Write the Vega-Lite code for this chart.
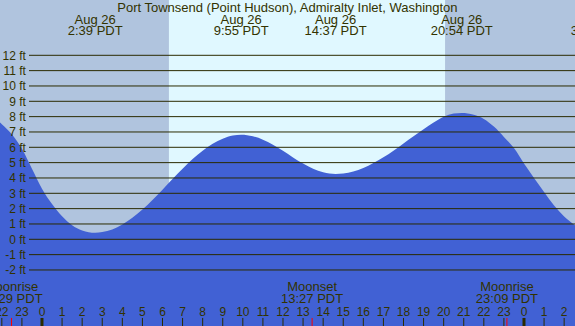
{
  "$schema": "https://vega.github.io/schema/vega-lite/v6.json",
  "width": 575,
  "height": 326,
  "autosize": {"type": "fit", "contains": "padding"},
  "padding": 0,
  "background": "#e0f8ff",
  "config": {"view": {"stroke": null}, "text": {"font": "Liberation Sans", "fontSize": 12, "color": "#333300"}},
  "datasets": {
    "tide": [
      {"t": -2.2, "ft": 7.75}, {"t": -2.0, "ft": 7.5}, {"t": -1.5, "ft": 6.85}, {"t": -1.0, "ft": 5.9},
      {"t": -0.5, "ft": 4.6}, {"t": 0.0, "ft": 3.3}, {"t": 0.5, "ft": 2.3}, {"t": 1.0, "ft": 1.5},
      {"t": 1.5, "ft": 0.92}, {"t": 2.0, "ft": 0.58}, {"t": 2.65, "ft": 0.43}, {"t": 3.0, "ft": 0.47},
      {"t": 3.5, "ft": 0.64}, {"t": 4.0, "ft": 0.96}, {"t": 4.5, "ft": 1.4}, {"t": 5.0, "ft": 1.94},
      {"t": 5.5, "ft": 2.56}, {"t": 6.0, "ft": 3.23}, {"t": 6.5, "ft": 3.93}, {"t": 7.0, "ft": 4.6},
      {"t": 7.5, "ft": 5.23}, {"t": 8.0, "ft": 5.78}, {"t": 8.5, "ft": 6.23}, {"t": 9.0, "ft": 6.56},
      {"t": 9.5, "ft": 6.77}, {"t": 9.92, "ft": 6.82}, {"t": 10.5, "ft": 6.72}, {"t": 11.0, "ft": 6.5},
      {"t": 11.5, "ft": 6.17}, {"t": 12.0, "ft": 5.77}, {"t": 12.5, "ft": 5.34}, {"t": 13.0, "ft": 4.94},
      {"t": 13.5, "ft": 4.6}, {"t": 14.0, "ft": 4.37}, {"t": 14.62, "ft": 4.26}, {"t": 15.0, "ft": 4.29},
      {"t": 15.5, "ft": 4.42}, {"t": 16.0, "ft": 4.65}, {"t": 16.5, "ft": 4.98}, {"t": 17.0, "ft": 5.35},
      {"t": 17.5, "ft": 5.78}, {"t": 18.0, "ft": 6.25}, {"t": 18.5, "ft": 6.72}, {"t": 19.0, "ft": 7.18},
      {"t": 19.5, "ft": 7.62}, {"t": 20.0, "ft": 8.0}, {"t": 20.5, "ft": 8.2}, {"t": 20.9, "ft": 8.24},
      {"t": 21.5, "ft": 8.12}, {"t": 22.0, "ft": 7.85}, {"t": 22.5, "ft": 7.35}, {"t": 23.0, "ft": 6.68},
      {"t": 23.5, "ft": 5.95}, {"t": 24.0, "ft": 4.95}, {"t": 24.5, "ft": 4.0}, {"t": 25.0, "ft": 3.08},
      {"t": 25.5, "ft": 2.2}, {"t": 26.0, "ft": 1.48}, {"t": 26.5, "ft": 0.95}, {"t": 27.0, "ft": 0.55}
    ],
    "night": [
      {"start": -2.5, "end": 6.32},
      {"start": 20.07, "end": 27.0}
    ],
    "grid": [
      {"ft": 12, "lbl": "12 ft"}, {"ft": 11, "lbl": "11 ft"}, {"ft": 10, "lbl": "10 ft"}, {"ft": 9, "lbl": "9 ft"},
      {"ft": 8, "lbl": "8 ft"}, {"ft": 7, "lbl": "7 ft"}, {"ft": 6, "lbl": "6 ft"}, {"ft": 5, "lbl": "5 ft"},
      {"ft": 4, "lbl": "4 ft"}, {"ft": 3, "lbl": "3 ft"}, {"ft": 2, "lbl": "2 ft"}, {"ft": 1, "lbl": "1 ft"},
      {"ft": 0, "lbl": "0 ft"}, {"ft": -1, "lbl": "-1 ft"}, {"ft": -2, "lbl": "-2 ft"}
    ],
    "tides": [
      {"t": 2.65, "d": "Aug 26", "tm": "2:39 PDT"},
      {"t": 9.917, "d": "Aug 26", "tm": "9:55 PDT"},
      {"t": 14.617, "d": "Aug 26", "tm": "14:37 PDT"},
      {"t": 20.9, "d": "Aug 26", "tm": "20:54 PDT"},
      {"t": 27.7, "d": "Aug 27", "tm": "3:42 PDT"}
    ],
    "moon": [
      {"t": -1.517, "ev": "Moonrise", "tm": "22:29 PDT"},
      {"t": 13.45, "ev": "Moonset", "tm": "13:27 PDT"},
      {"t": 23.15, "ev": "Moonrise", "tm": "23:09 PDT"}
    ],
    "hours": [
      {"t": -2, "lbl": "22"}, {"t": -1, "lbl": "23"}, {"t": 0, "lbl": "0"}, {"t": 1, "lbl": "1"},
      {"t": 2, "lbl": "2"}, {"t": 3, "lbl": "3"}, {"t": 4, "lbl": "4"}, {"t": 5, "lbl": "5"},
      {"t": 6, "lbl": "6"}, {"t": 7, "lbl": "7"}, {"t": 8, "lbl": "8"}, {"t": 9, "lbl": "9"},
      {"t": 10, "lbl": "10"}, {"t": 11, "lbl": "11"}, {"t": 12, "lbl": "12"}, {"t": 13, "lbl": "13"},
      {"t": 14, "lbl": "14"}, {"t": 15, "lbl": "15"}, {"t": 16, "lbl": "16"}, {"t": 17, "lbl": "17"},
      {"t": 18, "lbl": "18"}, {"t": 19, "lbl": "19"}, {"t": 20, "lbl": "20"}, {"t": 21, "lbl": "21"},
      {"t": 22, "lbl": "22"}, {"t": 23, "lbl": "23"}, {"t": 24, "lbl": "0"}, {"t": 25, "lbl": "1"},
      {"t": 26, "lbl": "2"}
    ],
    "title": [
      {"t": 12.22, "txt": "Port Townsend (Point Hudson), Admiralty Inlet, Washington"}
    ]
  },
  "layer": [
    {
      "data": {"name": "night"},
      "mark": {"type": "rect", "color": "#b0c4de", "clip": true},
      "encoding": {
        "x": {"field": "start", "type": "quantitative", "scale": {"domain": [-2.091, 26.54], "nice": false, "zero": false}, "axis": null},
        "x2": {"field": "end"},
        "y": {"datum": 16, "type": "quantitative", "scale": {"domain": [-5.654, 15.607], "nice": false, "zero": false}, "axis": null},
        "y2": {"datum": -6}
      }
    },
    {
      "data": {"name": "tide"},
      "mark": {"type": "area", "color": "#4161d4", "interpolate": "monotone", "clip": true, "opacity": 1},
      "encoding": {
        "x": {"field": "t", "type": "quantitative", "scale": {"domain": [-2.091, 26.54], "nice": false, "zero": false}, "axis": null},
        "y": {"field": "ft", "type": "quantitative", "scale": {"domain": [-5.654, 15.607], "nice": false, "zero": false}, "axis": null},
        "y2": {"datum": -6}
      }
    },
    {
      "data": {"name": "grid"},
      "mark": {"type": "rule", "color": "#2b2b00", "strokeWidth": 1, "clip": true},
      "encoding": {
        "x": {"datum": -0.647, "type": "quantitative", "scale": {"domain": [-2.091, 26.54], "nice": false, "zero": false}, "axis": null},
        "x2": {"datum": 27},
        "y": {"field": "ft", "type": "quantitative", "scale": {"domain": [-5.654, 15.607], "nice": false, "zero": false}, "axis": null}
      }
    },
    {
      "data": {"name": "grid"},
      "mark": {"type": "text", "align": "right", "baseline": "middle", "clip": true, "dy": 0.5},
      "encoding": {
        "x": {"datum": -0.8, "type": "quantitative", "scale": {"domain": [-2.091, 26.54], "nice": false, "zero": false}, "axis": null},
        "y": {"field": "ft", "type": "quantitative", "scale": {"domain": [-5.654, 15.607], "nice": false, "zero": false}, "axis": null},
        "text": {"field": "lbl"}
      }
    },
    {
      "data": {"name": "title"},
      "mark": {"type": "text", "align": "center", "baseline": "alphabetic", "clip": true, "fontSize": 13},
      "encoding": {
        "x": {"field": "t", "type": "quantitative", "scale": {"domain": [-2.091, 26.54], "nice": false, "zero": false}, "axis": null},
        "y": {"datum": 14.84, "type": "quantitative", "scale": {"domain": [-5.654, 15.607], "nice": false, "zero": false}, "axis": null},
        "text": {"field": "txt"}
      }
    },
    {
      "data": {"name": "tides"},
      "mark": {"type": "text", "align": "center", "baseline": "alphabetic", "clip": true, "fontSize": 13},
      "encoding": {
        "x": {"field": "t", "type": "quantitative", "scale": {"domain": [-2.091, 26.54], "nice": false, "zero": false}, "axis": null},
        "y": {"datum": 14.04, "type": "quantitative", "scale": {"domain": [-5.654, 15.607], "nice": false, "zero": false}, "axis": null},
        "text": {"field": "d"}
      }
    },
    {
      "data": {"name": "tides"},
      "mark": {"type": "text", "align": "center", "baseline": "alphabetic", "clip": true, "fontSize": 13},
      "encoding": {
        "x": {"field": "t", "type": "quantitative", "scale": {"domain": [-2.091, 26.54], "nice": false, "zero": false}, "axis": null},
        "y": {"datum": 13.3, "type": "quantitative", "scale": {"domain": [-5.654, 15.607], "nice": false, "zero": false}, "axis": null},
        "text": {"field": "tm"}
      }
    },
    {
      "data": {"name": "moon"},
      "mark": {"type": "text", "align": "center", "baseline": "alphabetic", "clip": true, "fontSize": 13},
      "encoding": {
        "x": {"field": "t", "type": "quantitative", "scale": {"domain": [-2.091, 26.54], "nice": false, "zero": false}, "axis": null},
        "y": {"datum": -3.35, "type": "quantitative", "scale": {"domain": [-5.654, 15.607], "nice": false, "zero": false}, "axis": null},
        "text": {"field": "ev"}
      }
    },
    {
      "data": {"name": "moon"},
      "mark": {"type": "text", "align": "center", "baseline": "alphabetic", "clip": true, "fontSize": 13},
      "encoding": {
        "x": {"field": "t", "type": "quantitative", "scale": {"domain": [-2.091, 26.54], "nice": false, "zero": false}, "axis": null},
        "y": {"datum": -4.17, "type": "quantitative", "scale": {"domain": [-5.654, 15.607], "nice": false, "zero": false}, "axis": null},
        "text": {"field": "tm"}
      }
    },
    {
      "data": {"name": "hours"},
      "mark": {"type": "text", "align": "center", "baseline": "alphabetic", "clip": true},
      "encoding": {
        "x": {"field": "t", "type": "quantitative", "scale": {"domain": [-2.091, 26.54], "nice": false, "zero": false}, "axis": null},
        "y": {"datum": -4.98, "type": "quantitative", "scale": {"domain": [-5.654, 15.607], "nice": false, "zero": false}, "axis": null},
        "text": {"field": "lbl"}
      }
    },
    {
      "data": {"name": "hours"},
      "mark": {"type": "rule", "color": "#2b2b00", "clip": true},
      "encoding": {
        "x": {"field": "t", "type": "quantitative", "scale": {"domain": [-2.091, 26.54], "nice": false, "zero": false}, "axis": null},
        "y": {"datum": -5.13, "type": "quantitative", "scale": {"domain": [-5.654, 15.607], "nice": false, "zero": false}, "axis": null},
        "y2": {"datum": -5.7},
        "strokeWidth": {"condition": {"test": "datum.lbl == '0'", "value": 3}, "value": 1}
      }
    },
    {
      "data": {"name": "moon"},
      "mark": {"type": "rule", "color": "#ff0000", "strokeWidth": 1, "clip": true},
      "encoding": {
        "x": {"field": "t", "type": "quantitative", "scale": {"domain": [-2.091, 26.54], "nice": false, "zero": false}, "axis": null},
        "y": {"datum": -5.13, "type": "quantitative", "scale": {"domain": [-5.654, 15.607], "nice": false, "zero": false}, "axis": null},
        "y2": {"datum": -5.7}
      }
    }
  ]
}
